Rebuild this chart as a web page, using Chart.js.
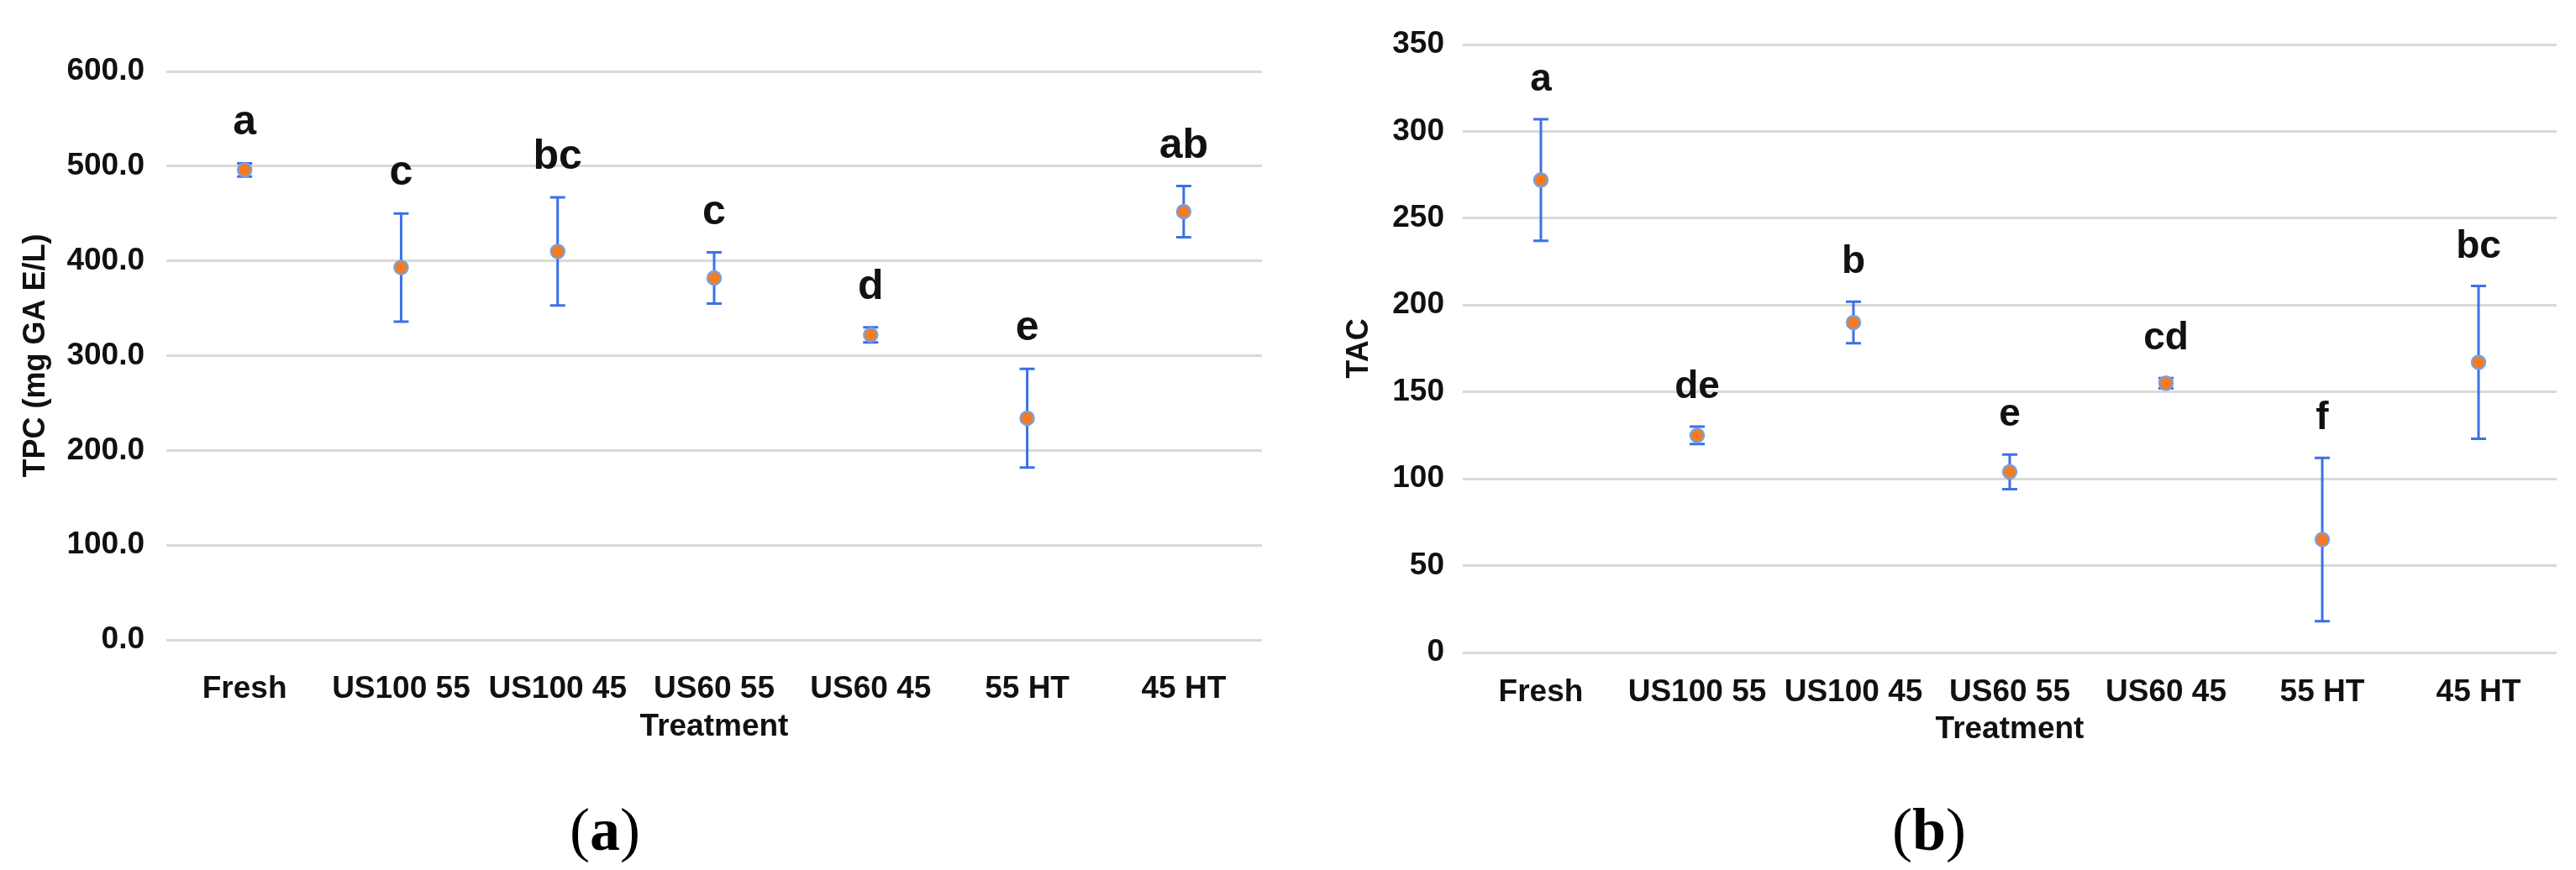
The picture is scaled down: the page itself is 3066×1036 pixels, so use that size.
<!DOCTYPE html>
<html>
<head>
<meta charset="utf-8">
<script src="https://cdn.jsdelivr.net/npm/chart.js@4.4.1/dist/chart.umd.min.js"></script>
<style>
  html, body { margin: 0; padding: 0; background: #fff; }
  body { width: 3066px; height: 1036px; position: relative; overflow: hidden; }
  .panel { position: absolute; top: 0; height: 900px; }
  .tag {
    position: absolute; top: 946px; transform: translateX(-50%);
    font-family: "Liberation Serif", "DejaVu Serif", serif;
    font-size: 72px; line-height: 84px; color: #000;
  }
</style>
</head>
<body>
<div class="panel" style="left:0;width:1530px"><canvas id="tpcChart"></canvas></div>
<div class="panel" style="left:1530px;width:1536px"><canvas id="tacChart"></canvas></div>
<div class="tag" style="left:720px">(<b>a</b>)</div>
<div class="tag" style="left:2296px">(<b>b</b>)</div>

<script>
const treatments = ['Fresh', 'US100 55', 'US100 45', 'US60 55', 'US60 45', '55 HT', '45 HT'];

// (a) total phenolic content
const tpcMean = [496, 393, 410, 382, 322, 234, 452];
const tpcError = [7, 57, 57, 27, 8, 52, 27];
const tpcLetters = ['a', 'c', 'bc', 'c', 'd', 'e', 'ab'];
const tpcTicks = [0, 100, 200, 300, 400, 500, 600];

// (b) total anthocyanin content
const tacMean = [272, 125, 190, 104, 155, 65, 167];
const tacError = [35, 5, 12, 10, 3, 47, 44];
const tacLetters = ['a', 'de', 'b', 'e', 'cd', 'f', 'bc'];
const tacTicks = [0, 50, 100, 150, 200, 250, 300, 350];

const FONT = '"Liberation Sans", Arial, sans-serif';
const INK = '#111';

// error bars under the markers, significance letters above
const errorBars = {
  id: 'errorBars',
  beforeDatasetsDraw(chart, args, opts) {
    const { ctx, scales: { x, y } } = chart;
    ctx.save();
    ctx.strokeStyle = '#3a72e6';
    ctx.lineWidth = 3;
    opts.means.forEach((m, i) => {
      const px = x.getPixelForValue(i);
      const top = y.getPixelForValue(m + opts.errors[i]);
      const bot = y.getPixelForValue(m - opts.errors[i]);
      ctx.beginPath();
      ctx.moveTo(px, top); ctx.lineTo(px, bot);
      ctx.moveTo(px - 9, top); ctx.lineTo(px + 9, top);
      ctx.moveTo(px - 9, bot); ctx.lineTo(px + 9, bot);
      ctx.stroke();
    });
    ctx.restore();
  },
  afterDatasetsDraw(chart, args, opts) {
    const { ctx, scales: { x, y } } = chart;
    ctx.save();
    ctx.fillStyle = INK;
    ctx.font = `bold ${opts.letterSize}px ${FONT}`;
    ctx.textAlign = 'center';
    ctx.textBaseline = 'alphabetic';
    opts.letters.forEach((txt, i) => {
      const px = x.getPixelForValue(i);
      const top = y.getPixelForValue(opts.means[i] + opts.errors[i]);
      ctx.fillText(txt, px, top - 34);
    });
    ctx.restore();
  }
};

function makeChart(id, means, errors, letters, ticks, yTitle, decimals, g) {
  return new Chart(document.getElementById(id), {
    type: 'line',
    data: {
      labels: treatments,
      datasets: [{
        data: means,
        showLine: false,
        pointRadius: 8,
        pointBackgroundColor: '#f47b20',
        pointBorderColor: '#7f9fd8',
        pointBorderWidth: 2.5
      }]
    },
    options: {
      responsive: true,
      maintainAspectRatio: false,
      animation: false,
      layout: { padding: g.pad },
      plugins: {
        legend: { display: false },
        tooltip: { enabled: false },
        errorBars: { means, errors, letters, letterSize: g.letterSize }
      },
      scales: {
        x: {
          offset: true,
          grid: { display: false },
          border: { display: false },
          ticks: { color: INK, padding: g.xTickPad, maxRotation: 0, font: { family: FONT, size: 37, weight: 'bold' } },
          title: { display: true, text: 'Treatment', color: INK, padding: 4, font: { family: FONT, size: 37, weight: 'bold' } },
          afterFit: (s) => { s.height = g.xHeight; }
        },
        y: {
          min: ticks[0],
          max: ticks[ticks.length - 1],
          afterBuildTicks: (s) => { s.ticks = ticks.map(v => ({ value: v })); },
          grid: { color: '#d9d9d9', lineWidth: 3, drawTicks: false },
          border: { display: false },
          ticks: {
            color: INK, padding: g.yTickPad,
            font: { family: FONT, size: 37, weight: 'bold' },
            callback: (v) => Number(v).toFixed(decimals)
          },
          title: { display: true, text: yTitle, color: INK, padding: 4, font: { family: FONT, size: 36, weight: 'bold' } },
          afterFit: (s) => { s.width = g.yWidth; }
        }
      }
    },
    plugins: [errorBars]
  });
}

makeChart('tpcChart', tpcMean, tpcError, tpcLetters, tpcTicks, 'TPC (mg GA E/L)', 1, {
  pad: { left: 17, right: 28, top: 85, bottom: 8 },
  yWidth: 181, xHeight: 130, yTickPad: 26, xTickPad: 29, letterSize: 50
});

makeChart('tacChart', tacMean, tacError, tacLetters, tacTicks, 'TAC', 0, {
  pad: { left: 62, right: 23, top: 53, bottom: 5 },
  yWidth: 149, xHeight: 118, yTickPad: 22, xTickPad: 18, letterSize: 46
});
</script>
</body>
</html>
